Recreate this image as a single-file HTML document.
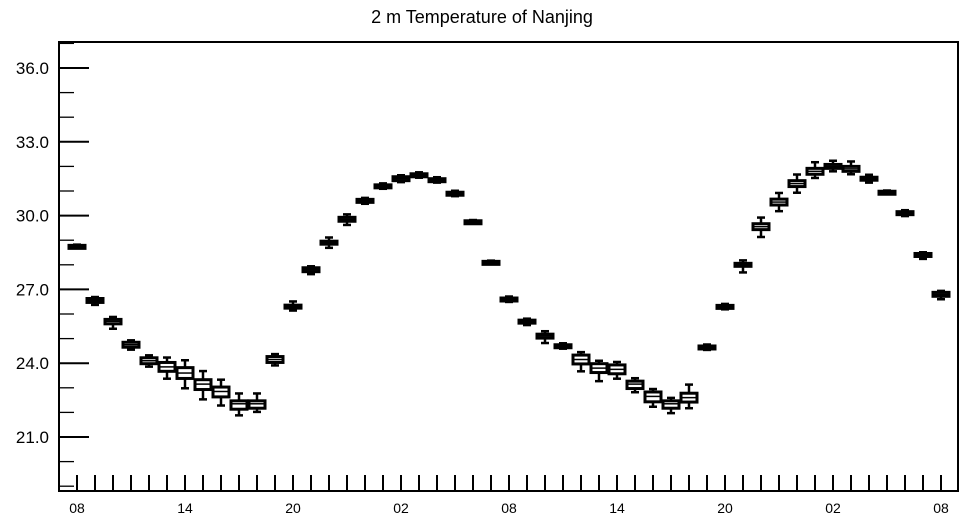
<!DOCTYPE html>
<html><head><meta charset="utf-8"><style>
body{margin:0;background:#fff}
svg{display:block;font-family:"Liberation Sans",sans-serif}
</style></head><body>
<svg id="chart" width="964" height="520" viewBox="0 0 964 520">
<text x="482" y="23" font-size="18" text-anchor="middle">2 m Temperature of Nanjing</text>
<g id="plot"></g>
</svg>
<script>
const hours = ["08","09","10","11","12","13","14","15","16","17","18","19","20","21","22","23","00","01","02","03","04","05","06","07","08","09","10","11","12","13","14","15","16","17","18","19","20","21","22","23","00","01","02","03","04","05","06","07","08"];
const medians = [28.75,26.55,25.7,24.75,24.1,23.85,23.6,23.15,22.85,22.35,22.35,24.15,26.3,27.8,28.9,29.85,30.6,31.2,31.5,31.65,31.45,30.9,29.75,28.1,26.6,25.7,25.1,24.7,24.15,23.8,23.75,23.15,22.65,22.35,22.6,24.65,26.3,28.0,29.55,30.55,31.3,31.8,32.0,31.9,31.5,30.95,30.1,28.4,26.8];
const boxLow = [0.04,0.08,0.1,0.1,0.12,0.18,0.22,0.22,0.22,0.22,0.18,0.12,0.06,0.08,0.06,0.08,0.06,0.05,0.08,0.05,0.05,0.05,0.04,0.04,0.05,0.05,0.08,0.05,0.18,0.18,0.18,0.18,0.22,0.18,0.18,0.05,0.05,0.06,0.12,0.12,0.12,0.12,0.08,0.1,0.06,0.04,0.06,0.06,0.08];
const boxHigh = [0.04,0.08,0.08,0.1,0.12,0.18,0.22,0.18,0.18,0.12,0.12,0.12,0.06,0.08,0.06,0.08,0.06,0.05,0.08,0.05,0.05,0.05,0.04,0.04,0.05,0.05,0.08,0.05,0.18,0.18,0.18,0.12,0.18,0.12,0.18,0.05,0.05,0.06,0.12,0.12,0.12,0.12,0.08,0.1,0.06,0.04,0.06,0.06,0.08];
const whiskLow = [0.03,0.1,0.2,0.1,0.12,0.3,0.4,0.4,0.35,0.25,0.15,0.12,0.1,0.1,0.15,0.15,0.06,0.06,0.06,0.06,0.06,0.06,0.03,0.03,0.06,0.1,0.2,0.06,0.3,0.35,0.2,0.15,0.2,0.2,0.25,0.06,0.06,0.25,0.3,0.25,0.25,0.15,0.12,0.12,0.1,0.03,0.06,0.1,0.12];
const whiskHigh = [0.03,0.06,0.1,0.08,0.1,0.2,0.3,0.35,0.3,0.3,0.3,0.1,0.15,0.06,0.15,0.12,0.06,0.06,0.06,0.06,0.06,0.06,0.03,0.03,0.06,0.06,0.12,0.06,0.12,0.12,0.12,0.12,0.12,0.12,0.35,0.06,0.06,0.12,0.25,0.25,0.25,0.25,0.15,0.2,0.1,0.03,0.06,0.05,0.06];
const yTicks = [21,24,27,30,33,36];
const yTickLabels = ["21.0","24.0","27.0","30.0","33.0","36.0"];
const xLabelEvery = 6;

const L=59,R=958,T=42,B=491;
const X0=77, DX=18;
const xs=i=>X0+i*DX;
const ys=v=>437-(v-21)*(369/15);
const ns="http://www.w3.org/2000/svg";
const g=document.getElementById('plot');
function mk(tag,attrs,parent){const e=document.createElementNS(ns,tag);for(const k in attrs)e.setAttribute(k,attrs[k]);(parent||g).appendChild(e);return e;}

const frame=mk('rect',{x:L,y:T,width:R-L,height:B-T,fill:'none',stroke:'#000','stroke-width':2});



for(let v=19;v<=37;v++){
  const major=yTicks.includes(v);
  const t=mk('line',{x1:L,x2:L+(major?30:15),y1:ys(v),y2:ys(v),stroke:'#000','stroke-width':major?2:1.3});
  
  
}
yTicks.forEach((v,i)=>{
  const t=mk('text',{x:49,y:ys(v)+6,'font-size':17,'text-anchor':'end'});
  t.textContent=yTickLabels[i];
  
  
});
hours.forEach((h,i)=>{
  const t=mk('line',{x1:xs(i),x2:xs(i),y1:B,y2:B-16,stroke:'#000','stroke-width':2});
  
  
  if(i%xLabelEvery===0){
    const lb=mk('text',{x:xs(i),y:513,'font-size':14,'text-anchor':'middle'});
    lb.textContent=h;
    
    
  }
});
medians.forEach((m,i)=>{
  const bg=mk('g',{});
  
  
  const x=xs(i), q1=m-boxLow[i], q3=m+boxHigh[i], lo=q1-whiskLow[i], hi=q3+whiskHigh[i];
  mk('line',{x1:x,x2:x,y1:ys(hi),y2:ys(lo),stroke:'#000','stroke-width':2.5},bg);
  mk('line',{x1:x-4,x2:x+4,y1:ys(hi),y2:ys(hi),stroke:'#000','stroke-width':2.5},bg);
  mk('line',{x1:x-4,x2:x+4,y1:ys(lo),y2:ys(lo),stroke:'#000','stroke-width':2.5},bg);
  const top=ys(q3), h=Math.max(ys(q1)-top,3);
  mk('rect',{x:x-8,y:top,width:16,height:h,fill:'#fff',stroke:'#000','stroke-width':3},bg);
  mk('line',{x1:x-8,x2:x+8,y1:ys(m),y2:ys(m),stroke:'#000','stroke-width':1.5},bg);
});
</script>
</body></html>
